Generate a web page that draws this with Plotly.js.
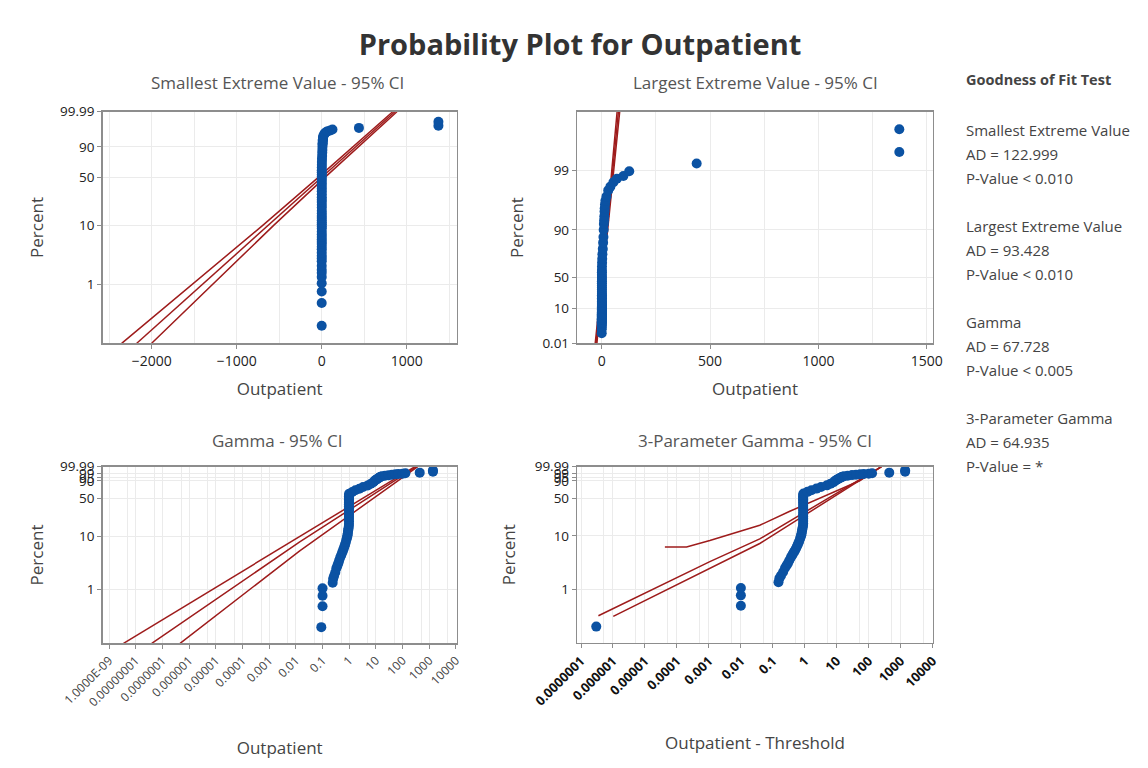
<!DOCTYPE html>
<html>
<head>
<meta charset="utf-8">
<script src="https://cdn.plot.ly/plotly-3.0.1.min.js"></script>
<style>html,body{margin:0;padding:0;background:#fff;}#chart{width:1148px;height:768px;}</style>
</head>
<body>
<div id="chart"></div>
<script>
// ---------------- data ----------------
// plotting positions (percent) of the sorted Outpatient values
const pctPlot = [0.2, 0.49, 0.77, 1.06, 1.35, 1.6, 1.8, 2.1, 2.5, 2.8, 3.1, 3.5, 4.0, 4.4, 4.9, 5.3, 5.8, 6.4, 7.0, 7.8,
  8.8, 9.5, 10.3, 11, 12, 13, 14, 15.4,
  17, 19, 21, 23, 25, 27, 30, 33, 36, 39, 42, 45, 48, 51, 54, 57,
  60, 64, 68, 72, 76, 80, 84, 87, 90, 92, 93, 94, 95, 95.6, 96.2, 96.7, 97.2, 97.8, 98.1,
  98.4, 98.6, 98.75, 98.96, 99.23, 99.51, 99.80];
const outpatient = [0.09, 0.1, 0.1, 0.1, 0.24, 0.25, 0.27, 0.30, 0.33, 0.36, 0.39, 0.42, 0.46, 0.50, 0.54, 0.58, 0.62, 0.66, 0.70, 0.75,
  0.80, 0.83, 0.86, 0.88, 0.90, 0.92, 0.94, 0.97,
  0.98, 0.98, 0.98, 0.98, 0.98, 0.98, 0.98, 0.98, 0.98, 0.98, 0.98, 0.98, 0.98, 0.98, 0.98, 0.98,
  1.0, 1.3, 1.7, 2.4, 3.3, 5.0, 6.5, 8, 9, 10, 11, 12, 13, 14, 15, 17, 22, 30, 40,
  54, 70, 100, 127, 438, 1373, 1373];
const threshold = 0.0899997;   // 3-parameter gamma threshold
const gammaShape = 0.3;        // shape defining the gamma probability scale

// Smallest extreme value fit and 95% CI
const sevPct   = [0.1, 1, 10, 50, 90, 99.99];
const sevFit   = [-2175, -1408, -626, 0, 399, 860];
const sevLower = [-2353, -1528, -690, -40, 362, 835];
const sevUpper = [-2000, -1290, -562, 38, 436, 885];

// Largest extreme value fit and 95% CI
const levPct   = [0.01, 50, 99.9];
const levFit   = [-26, 3.2, 77];
const levLower = [-30, 1.5, 71];
const levUpper = [-22, 5, 83];

// Gamma fit and 95% CI (value, percent)
const gamLowerX = [3.5e-9, 0.014, 290];  const gamLowerPct = [0.1, 10, 99.99];
const gamFitX   = [4.0e-8, 0.014, 330];  const gamFitPct   = [0.1, 7.8, 99.99];
const gamUpperX = [4.6e-7, 0.014, 370];  const gamUpperPct = [0.1, 5.3, 99.99];

// 3-parameter gamma fit and 95% CI (value - threshold, percent)
const tpLowerX = [4.2e-5, 2.0e-4, 1.07e-3, 0.039, 0.34, 52, 250];
const tpLowerPct = [6.2, 6.2, 8.2, 15.8, 28.8, 90, 99.99];
const tpFitX = [3.5e-7, 1.07e-3, 0.039, 250];
const tpFitPct = [0.32, 3.3, 8.8, 99.99];
const tpUpperX = [1.02e-6, 1.07e-3, 0.039, 250];
const tpUpperPct = [0.31, 2.5, 7.2, 99.99];

// tick labels
const sevTicks = [99.99, 90, 50, 10, 1];
const levTicks = [99, 90, 50, 10, 0.01];
const gamTicks = [99.99, 99, 95, 90, 50, 10, 1];
const gamXTickText = ['1.0000E-09','0.00000001','0.0000001','0.000001','0.00001','0.0001','0.001','0.01','0.1','1','10','100','1000','10000'];
const tpXTickText = ['0.0000001','0.000001','0.00001','0.0001','0.001','0.01','0.1','1','10','100','1000','10000'];

const gofLines = ['Smallest Extreme Value','AD = 122.999','P-Value < 0.010','',
  'Largest Extreme Value','AD = 93.428','P-Value < 0.010','',
  'Gamma','AD = 67.728','P-Value < 0.005','',
  '3-Parameter Gamma','AD = 64.935','P-Value = *'];

// ---------------- probability scales ----------------
function lnGamma(z){
  const c=[0.99999999999980993,676.5203681218851,-1259.1392167224028,771.32342877765313,-176.61502916214059,12.507343278686905,-0.13857109526572012,9.9843695780195716e-6,1.5056327351493116e-7];
  if(z<0.5) return Math.log(Math.PI/Math.sin(Math.PI*z))-lnGamma(1-z);
  z-=1; let x=c[0]; for(let i=1;i<9;i++) x+=c[i]/(z+i);
  const t=z+7.5; return 0.5*Math.log(2*Math.PI)+(z+0.5)*Math.log(t)-t+Math.log(x);
}
function gammaP(a,x){
  if(x<=0) return 0;
  const lf=-x+a*Math.log(x)-lnGamma(a);
  if(x<a+1){
    let ap=a, sum=1/a, del=sum;
    for(let n=0;n<1000;n++){ap+=1; del*=x/ap; sum+=del; if(Math.abs(del)<Math.abs(sum)*1e-16) break;}
    return sum*Math.exp(lf);
  }
  let b=x+1-a, c=1e300, d=1/b, h=d;
  for(let i=1;i<1000;i++){
    const an=-i*(i-a); b+=2; d=an*d+b; if(Math.abs(d)<1e-300) d=1e-300;
    c=b+an/c; if(Math.abs(c)<1e-300) c=1e-300; d=1/d; const del=d*c; h*=del;
    if(Math.abs(del-1)<1e-16) break;
  }
  return 1-Math.exp(lf)*h;
}
function gammaQ10(p){ // log10 of gamma(shape) quantile
  let lo=-80, hi=4;
  for(let i=0;i<200;i++){const m=(lo+hi)/2; if(gammaP(gammaShape,Math.pow(10,m))<p) lo=m; else hi=m;}
  return (lo+hi)/2;
}
const Tsev = pc => Math.log(-Math.log(1-pc/100));
const Tlev = pc => -Math.log(-Math.log(pc/100));
const Tgam = pc => gammaQ10(pc/100);

// ---------------- traces ----------------
const blue = '#0b52a3', red = '#9e1c1c';
const mk = {color: blue, size: 10};
const ln = {color: red, width: 1.5};
const traces = [];
function line(x, y, xa, ya){ traces.push({x:x, y:y, xaxis:xa, yaxis:ya, mode:'lines', line:ln, hoverinfo:'skip'}); }

// SEV
line(sevLower, sevPct.map(Tsev), 'x', 'y');
line(sevFit, sevPct.map(Tsev), 'x', 'y');
line(sevUpper, sevPct.map(Tsev), 'x', 'y');
traces.push({x: outpatient, y: pctPlot.map(Tsev), xaxis:'x', yaxis:'y', mode:'markers', marker:mk});
// LEV
line(levLower, levPct.map(Tlev), 'x2', 'y2');
line(levFit, levPct.map(Tlev), 'x2', 'y2');
line(levUpper, levPct.map(Tlev), 'x2', 'y2');
traces.push({x: outpatient, y: pctPlot.map(Tlev), xaxis:'x2', yaxis:'y2', mode:'markers', marker:mk});
// Gamma
line(gamLowerX, gamLowerPct.map(Tgam), 'x3', 'y3');
line(gamFitX, gamFitPct.map(Tgam), 'x3', 'y3');
line(gamUpperX, gamUpperPct.map(Tgam), 'x3', 'y3');
traces.push({x: outpatient, y: pctPlot.map(Tgam), xaxis:'x3', yaxis:'y3', mode:'markers', marker:mk});
// 3-parameter gamma
line(tpLowerX, tpLowerPct.map(Tgam), 'x4', 'y4');
line(tpFitX, tpFitPct.map(Tgam), 'x4', 'y4');
line(tpUpperX, tpUpperPct.map(Tgam), 'x4', 'y4');
traces.push({x: outpatient.map(v => v - threshold), y: pctPlot.map(Tgam), xaxis:'x4', yaxis:'y4', mode:'markers', marker:mk});

// ---------------- layout ----------------
const W=1148, H=768;
const FF = '"Open Sans", "DejaVu Sans", sans-serif';
const px = v => v/W, py = v => 1 - v/H;
const tickFont = {family: FF, size: 13.5, color: '#222'};
const titleFont = {family: FF, size: 17, color: '#444'};
const base = {showline:true, mirror:true, linecolor:'#8d8d8d', linewidth:1.5, ticks:'outside', ticklen:4,
  tickcolor:'#8d8d8d', showgrid:true, gridcolor:'#ebebeb', gridwidth:1, zeroline:false, tickfont:tickFont, fixedrange:true};
const decades = (a,b) => {const r=[]; for(let k=a;k<=b;k++) r.push(Math.pow(10,k)); return r;};
const halves = (a,b) => {const r=[]; for(let k=a;k<=b;k++) r.push(5*Math.pow(10,k)); return r;};

const layout = {
  width:W, height:H, margin:{l:0,r:0,t:0,b:0}, paper_bgcolor:'#fff', plot_bgcolor:'#fff', showlegend:false,
  font:{family:FF, color:'#333'},
  title:{text:'<b>Probability Plot for Outpatient</b>', font:{family:FF, size:29, color:'#333'},
    x:580/W, y:1-45/H, xanchor:'center', yanchor:'middle'},
  xaxis: Object.assign({}, base, {domain:[px(102.7), px(456.7)], anchor:'y', range:[-2576,1588],
    tickmode:'linear', tick0:0, dtick:1000, minor:{dtick:500, showgrid:true, gridcolor:'#ebebeb', ticks:''},
    tickfont:{family:FF, size:14, color:'#222'},
    title:{text:'Outpatient', font:titleFont, standoff:14}}),
  yaxis: Object.assign({}, base, {domain:[py(343.3), py(111.7)], anchor:'x', range:[Tsev(0.1), Tsev(99.99)],
    tickmode:'array', tickvals:sevTicks.map(Tsev), ticktext:sevTicks.map(String),
    title:{text:'Percent', font:titleFont, standoff:12}}),
  xaxis2: Object.assign({}, base, {domain:[px(577.3), px(932.7)], anchor:'y2', range:[-112.6,1527],
    tickmode:'linear', tick0:0, dtick:500, minor:{dtick:250, showgrid:true, gridcolor:'#ebebeb', ticks:''},
    tickfont:{family:FF, size:14, color:'#222'},
    title:{text:'Outpatient', font:titleFont, standoff:14}}),
  yaxis2: Object.assign({}, base, {domain:[py(343.3), py(111.7)], anchor:'x2', range:[Tlev(0.01), Tlev(99.9)],
    tickmode:'array', tickvals:levTicks.map(Tlev), ticktext:levTicks.map(String),
    title:{text:'Percent', font:titleFont, standoff:14}}),
  xaxis3: Object.assign({}, base, {domain:[px(102.7), px(456.7)], anchor:'y3', type:'log', range:[-9.236,4.027],
    tickmode:'array', tickvals:decades(-9,4), ticktext:gamXTickText, tickangle:-45,
    tickfont:{family:FF, size:12, color:'#444'},
    minor:{tickmode:'array', tickvals:halves(-10,3), showgrid:true, gridcolor:'#ebebeb', ticks:''},
    title:{text:'Outpatient', font:titleFont, standoff:33}}),
  yaxis3: Object.assign({}, base, {domain:[py(643.3), py(466.7)], anchor:'x3', range:[Tgam(0.1), Tgam(99.99)],
    tickmode:'array', tickvals:gamTicks.map(Tgam), ticktext:gamTicks.map(String),
    title:{text:'Percent', font:titleFont, standoff:12}}),
  xaxis4: Object.assign({}, base, {domain:[px(577.3), px(932.7)], anchor:'y4', type:'log', range:[-7.116,4.0],
    tickmode:'array', tickvals:decades(-7,4), ticktext:tpXTickText, tickangle:-45,
    tickfont:{family:FF, size:13, color:'#111', weight:'bold'},
    minor:{tickmode:'array', tickvals:halves(-8,3), showgrid:true, gridcolor:'#ebebeb', ticks:''},
    title:{text:'Outpatient - Threshold', font:titleFont, standoff:28}}),
  yaxis4: Object.assign({}, base, {domain:[py(642.7), py(466.7)], anchor:'x4', range:[Tgam(0.1), Tgam(99.99)],
    tickmode:'array', tickvals:gamTicks.map(Tgam), ticktext:gamTicks.map(String),
    title:{text:'Percent', font:titleFont, standoff:14}}),
  annotations: []
};

const panelTitles = [
  ['Smallest Extreme Value - 95% CI', 277, 82],
  ['Largest Extreme Value - 95% CI', 755, 82],
  ['Gamma - 95% CI', 277, 440],
  ['3-Parameter Gamma - 95% CI', 755, 440]
];
panelTitles.forEach(t => layout.annotations.push({text:t[0], x:px(t[1]), y:py(t[2]), xref:'paper', yref:'paper',
  xanchor:'center', yanchor:'middle', showarrow:false, font:{family:FF, size:17, color:'#555'}}));

layout.annotations.push({text:'<b>Goodness of Fit Test</b>', x:px(964), y:py(80), xref:'paper', yref:'paper',
  xanchor:'left', yanchor:'middle', showarrow:false, font:{family:FF, size:14.5, color:'#444'}});
gofLines.forEach((s,i) => { if(!s) return; layout.annotations.push({text:s, x:px(964), y:py(130 + i*24),
  xref:'paper', yref:'paper', xanchor:'left', yanchor:'middle', showarrow:false, font:{family:FF, size:15, color:'#444'}}); });

Plotly.newPlot('chart', traces, layout, {staticPlot:true, displayModeBar:false});
</script>
</body>
</html>
